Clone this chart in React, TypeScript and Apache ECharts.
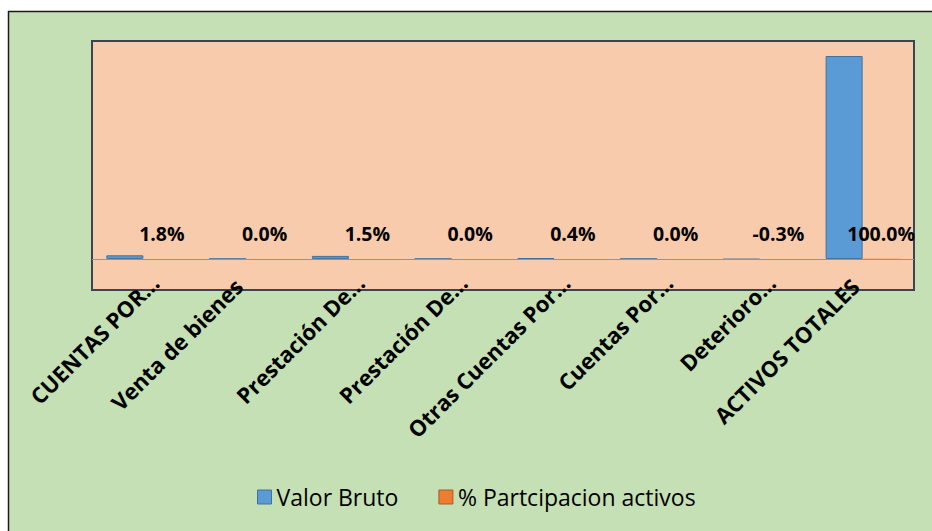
import React, { useEffect, useRef } from "react";
import * as echarts from "echarts";

const categories = [
  "CUENTAS POR…",
  "Venta de bienes",
  "Prestación De…",
  "Prestación De…",
  "Otras Cuentas Por…",
  "Cuentas Por…",
  "Deterioro…",
  "ACTIVOS TOTALES",
];
// Valor Bruto (relative units, total = 1000)
const valorBruto = [18, 0.2, 15, 0.2, 4, 0.2, -3, 1000];
// % Participación activos (fraction of total)
const participacion = [0.018, 0.0, 0.015, 0.0, 0.004, 0.0, -0.003, 1.0];

const seriesNames = ["Valor Bruto", "% Partcipacion activos"];

export default function App() {
  const ref = useRef<HTMLDivElement>(null);
  useEffect(() => {
    if (!ref.current) return;
    const chart = echarts.init(ref.current, null, { renderer: "svg" });
    const font = "'Open Sans', 'Noto Sans', sans-serif";
    const catData = categories.map((c) =>
      c.endsWith("…")
        ? { value: c, textStyle: { padding: [0, -16, 0, 0] } }
        : { value: c }
    );
    chart.setOption({
      animation: false,
      backgroundColor: "#ffffff",
      textStyle: { fontFamily: font },
      graphic: [
        {
          type: "rect",
          z: -10,
          silent: true,
          shape: { x: 8.5, y: 11.5, width: 940, height: 540 },
          style: { fill: "#c5e0b4", stroke: "#1a1a1a", lineWidth: 1.5 },
        },
      ],
      grid: {
        left: 92,
        right: 18,
        top: 41,
        bottom: 241,
        show: true,
        backgroundColor: "#f8cbad",
        borderColor: "#3a4454",
        borderWidth: 2,
        containLabel: false,
      },
      legend: {
        left: 252,
        top: 480,
        itemWidth: 14,
        itemHeight: 14,
        itemGap: 40,
        itemSymbolGap: 8,
        icon: "rect",
        textStyle: { fontSize: 23, color: "#000", fontFamily: font, lineHeight: 24 },
        data: [
          { name: seriesNames[0], itemStyle: { borderColor: "#41719c", borderWidth: 1 } },
          { name: seriesNames[1], itemStyle: { borderColor: "#ae5a21", borderWidth: 1 } },
        ],
      },
      xAxis: {
        type: "category",
        data: catData,
        axisLine: { show: false, onZero: false },
        axisTick: { show: false },
        axisLabel: {
          rotate: 45,
          interval: 0,
          fontSize: 22,
          fontWeight: "bold",
          color: "#000",
          fontFamily: font,
          verticalAlign: "bottom",
          margin: 0,
        },
      },
      yAxis: {
        type: "value",
        show: false,
        min: -153,
        max: 1074,
        splitLine: { show: false },
      },
      series: [
        {
          name: seriesNames[0],
          type: "bar",
          data: valorBruto,
          barWidth: 37,
          barGap: "0%",
          itemStyle: { color: "#5b9bd5", borderColor: "#41719c", borderWidth: 1 },
          markLine: {
            silent: true,
            symbol: "none",
            label: { show: false },
            lineStyle: { color: "#8497b0", width: 1, type: "solid" },
            data: [{ yAxis: 0 }],
          },
        },
        {
          name: seriesNames[1],
          type: "bar",
          data: participacion,
          barWidth: 37,
          barGap: "0%",
          itemStyle: { color: "#ed7d31", borderColor: "#ae5a21", borderWidth: 0 },
          label: {
            show: true,
            position: "top",
            distance: 15,
            fontSize: 19.5,
            fontWeight: "bold",
            color: "#000",
            lineHeight: 20,
            fontFamily: font,
            formatter: (p: any) => (p.value * 100).toFixed(1) + "%",
          },
        },
      ],
    });
    return () => chart.dispose();
  }, []);
  return (
    <div
      ref={ref}
      style={{ position: "fixed", left: 0, top: 0, width: 932, height: 531 }}
    />
  );
}
